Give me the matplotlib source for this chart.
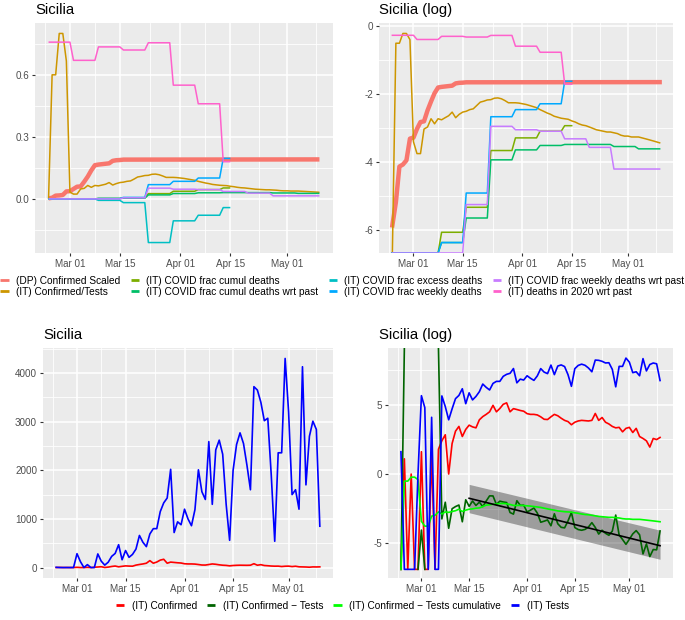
#!/usr/bin/env python3
"""
Sicilia COVID indicators: four panels (linear / log) with shared legends.
"""

import numpy as np
import pandas as pd
import matplotlib
matplotlib.use("Agg")
import matplotlib.pyplot as plt
import matplotlib.dates as mdates
from matplotlib.lines import Line2D

plt.rcParams["font.family"] = ["Liberation Sans", "DejaVu Sans"]
plt.rcParams["axes.unicode_minus"] = False

# ---------------- data ----------------
days = pd.date_range("2020-02-24", "2020-05-10", freq="D")

confirmed_daily = [0, 3, 0, 1, 0, 0, 5, 0, 0, 4, 0, 6, 11, 17, 1, 9, 22, 31, 15, 25,
                   34, 30, 28, 50, 63, 74, 89, 142, 89, 113, 153, 170, 89, 112, 105, 98,
                   93, 78, 74, 74, 71, 62, 52, 51, 62, 74, 67, 56, 48, 44, 35, 42, 46, 48,
                   47, 46, 48, 79, 48, 59, 42, 37, 31, 28, 29, 21, 27, 29, 20, 27, 15, 13,
                   11, 7, 13, 12, 14]
tests_daily = [5, 0, 0, 0, 0, 1, 285, 120, 0, 60, 0, 0, 280, 130, 50, 110, 230, 290, 470,
               160, 350, 210, 270, 380, 660, 520, 430, 690, 800, 800, 1150, 1330, 1430,
               2020, 720, 940, 880, 1200, 1000, 860, 1190, 2010, 1560, 1400, 2590, 1300,
               2420, 2620, 2330, 1300, 560, 2000, 2530, 2770, 2550, 2100, 1600, 3720,
               3650, 3400, 3020, 3070, 1900, 540, 2360, 2360, 4300, 3200, 1500, 1600,
               1200, 4130, 1700, 2700, 3010, 2840, 850]
# cumulative confirmed / cumulative tests
confirmed_over_tests = [0, 0.6, 0.6, 0.8, 0.8, 0.667, 0.033, 0.0233, 0.0233, 0.048, 0.051,
                        0.065, 0.056, 0.065, 0.063, 0.067, 0.071, 0.079, 0.067, 0.074,
                        0.079, 0.081, 0.085, 0.087, 0.096, 0.106, 0.109, 0.113, 0.114,
                        0.119, 0.12, 0.117, 0.111, 0.104, 0.104, 0.104, 0.103, 0.101,
                        0.099, 0.096, 0.093, 0.090, 0.085, 0.081, 0.077, 0.074, 0.070,
                        0.068, 0.066, 0.065, 0.064, 0.061, 0.059, 0.056, 0.054, 0.053,
                        0.051, 0.049, 0.047, 0.046, 0.045, 0.044, 0.044, 0.043, 0.042,
                        0.040, 0.039, 0.039, 0.038, 0.038, 0.038, 0.037, 0.036, 0.035,
                        0.034, 0.033, 0.032]

# (DP) confirmed scaled: daily until 2020-03-16, flat afterwards
dp_dates = list(pd.date_range("2020-02-24", "2020-03-16", freq="D")) + [pd.Timestamp("2020-05-10")]
dp_confirmed_scaled = [0.00282, 0.00557, 0.0159, 0.0169, 0.0191, 0.0362, 0.0373, 0.0482,
                       0.059, 0.0602, 0.083, 0.108, 0.138, 0.163, 0.166, 0.168, 0.170,
                       0.172, 0.184, 0.187, 0.188, 0.190, 0.191]

# weekly series (Mon..Sun), vertices at first and last day of each week
week_short = ["2020-02-24", "2020-03-01", "2020-03-02", "2020-03-08", "2020-03-09",
              "2020-03-15", "2020-03-16", "2020-03-22", "2020-03-23", "2020-03-29",
              "2020-03-30", "2020-04-05", "2020-04-06", "2020-04-12", "2020-04-13",
              "2020-04-15"]
week_long = week_short[:-1] + ["2020-04-19", "2020-04-20", "2020-04-26", "2020-04-27",
                               "2020-05-03", "2020-05-04", "2020-05-10"]

frac_cumul_deaths = [0, 0, 0, 0, 0.0023, 0.0023, 0.0048, 0.0048, 0.0255, 0.0255,
                     0.037, 0.037, 0.045, 0.045, 0.053, 0.053]
frac_cumul_deaths_past = [0, 0, 0, 0, 0.0017, 0.0017, 0.0035, 0.0035, 0.0194, 0.0194,
                          0.026, 0.026, 0.0296, 0.0296, 0.0305, 0.0305, 0.0305, 0.0305,
                          0.0287, 0.0287, 0.0268, 0.0268]
frac_excess_deaths = [0, 0, 0, 0, -0.007, -0.007, -0.018, -0.018, -0.211, -0.211,
                      -0.106, -0.106, -0.079, -0.079, -0.042, -0.042]
frac_weekly_deaths = [0, 0, 0, 0, 0.0017, 0.0017, 0.0073, 0.0073, 0.069, 0.069,
                      0.085, 0.085, 0.101, 0.101, 0.196, 0.196]
frac_weekly_deaths_past = [0, 0, 0, 0, 0, 0, 0.0052, 0.0052, 0.052, 0.052, 0.047, 0.047,
                           0.045, 0.045, 0.036, 0.036, 0.028, 0.028, 0.0148, 0.0148,
                           0.0148, 0.0148]
deaths_2020_wrt_past = [0.758, 0.758, 0.67, 0.67, 0.735, 0.735, 0.72, 0.72, 0.755, 0.755,
                        0.55, 0.55, 0.46, 0.46, 0.18, 0.18]

# linear fit (with band) on log(Confirmed) - log(Tests), from 2020-03-15
fit_dates = ["2020-03-15", "2020-05-10"]
fit_value = [-1.75, -5.17]
fit_lower = [-2.79, -6.15]
fit_upper = [-0.745, -4.05]

top_labels = ["(DP) Confirmed Scaled", "(IT) Confirmed/Tests", "(IT) COVID frac cumul deaths",
              "(IT) COVID frac cumul deaths wrt past", "(IT) COVID frac excess deaths",
              "(IT) COVID frac weekly deaths", "(IT) COVID frac weekly deaths wrt past",
              "(IT) deaths in 2020 wrt past"]
top_colors = ["#F8766D", "#CD9600", "#7CAE00", "#00BE67", "#00BFC4", "#00A9FF",
              "#C77CFF", "#FF61CC"]
bottom_labels = ["(IT) Confirmed", "(IT) Confirmed \u2212 Tests",
                 "(IT) Confirmed \u2212 Tests cumulative", "(IT) Tests"]
bottom_colors = ["#FF0000", "#006400", "#00FF00", "#0000FF"]

# ---------------- styling helpers ----------------
W, H = 685, 620
TICK_FS = 7.1
LEG_FS = 7.3
BG = "#EBEBEB"


def add_panel(fig, left, right, top, bottom):
    ax = fig.add_axes([left / W, 1 - bottom / H, (right - left) / W, (bottom - top) / H])
    ax.set_facecolor(BG)
    for s in ax.spines.values():
        s.set_visible(False)
    ax.tick_params(axis="both", which="major", labelsize=TICK_FS, labelcolor="#4D4D4D",
                   color="#333333", length=2.3, width=0.8, pad=2.0)
    ax.tick_params(axis="both", which="minor", length=0)
    ax.grid(True, which="major", color="white", lw=1.15)
    ax.grid(True, which="minor", color="white", lw=0.58)
    ax.set_axisbelow(True)
    return ax


def date_axis(ax):
    start, end = days[0], days[-1]
    pad = (end - start) * 0.05
    ax.set_xlim(mdates.date2num(start - pad), mdates.date2num(end + pad))
    majors = pd.to_datetime(["2020-03-01", "2020-03-15", "2020-04-01", "2020-04-15", "2020-05-01"])
    minors = pd.to_datetime(["2020-02-23 00:00", "2020-03-08 00:00", "2020-03-23 12:00",
                             "2020-04-08 00:00", "2020-04-23 00:00", "2020-05-09 00:00"])
    ax.set_xticks(mdates.date2num(majors))
    ax.set_xticklabels([d.strftime("%b %d") for d in majors])
    ax.set_xticks(mdates.date2num(minors), minor=True)


def value_axis(ax, lo, hi, majors, minors, fmt):
    pad = (hi - lo) * 0.05
    ax.set_ylim(lo - pad, hi + pad)
    ax.set_yticks(majors)
    ax.set_yticklabels([fmt(v) for v in majors])
    ax.set_yticks(minors, minor=True)
    return lo - pad, hi + pad


def clamp_inf(v, lo, hi):
    v = np.asarray(v, dtype=float).copy()
    v[np.isneginf(v)] = lo
    v[np.isposinf(v)] = hi
    return v


def add_legend(fig, colors, labels, y_px, spacing=0.0):
    handles = [Line2D([], [], color=c, lw=2.0, solid_capstyle="butt") for c in colors]
    fig.legend(handles, labels, loc="center", bbox_to_anchor=(0.5, 1 - y_px / H),
               ncol=4, frameon=False, fontsize=LEG_FS, handlelength=0.8,
               handletextpad=0.75, columnspacing=1.0, labelspacing=spacing,
               borderpad=0, borderaxespad=0)


def top_series():
    """(x, y) for the eight top series, in legend order"""
    ws, wl = pd.to_datetime(week_short), pd.to_datetime(week_long)
    return [
        (dp_dates, dp_confirmed_scaled),
        (days, confirmed_over_tests),
        (ws, frac_cumul_deaths),
        (wl, frac_cumul_deaths_past),
        (ws, frac_excess_deaths),
        (ws, frac_weekly_deaths),
        (wl, frac_weekly_deaths_past),
        (ws, deaths_2020_wrt_past),
    ]


def main():
    fig = plt.figure(figsize=(W / 100, H / 100), dpi=100)
    series = top_series()

    # top-left: linear
    ax = add_panel(fig, 35, 333, 23, 253)
    allv = np.concatenate([np.asarray(y, float) for _, y in series])
    value_axis(ax, allv.min(), allv.max(), [0, 0.3, 0.6], [-0.15, 0.15, 0.45, 0.75],
               lambda v: f"{v:.1f}")
    for i, (x, y) in enumerate(series):
        ax.plot(x, y, color=top_colors[i], lw=3.2 if i == 0 else 1.1, solid_capstyle="butt")
    date_axis(ax)
    fig.text(35 / W, 1 - 13.5 / H, "Sicilia", fontsize=10.7, va="baseline", ha="left")

    # top-right: log
    ax = add_panel(fig, 379, 673, 23, 253)
    with np.errstate(divide="ignore", invalid="ignore"):
        logs = [np.log(np.asarray(y, float)) for _, y in series]
    finite = np.concatenate([v[np.isfinite(v)] for v in logs])
    lo, hi = value_axis(ax, finite.min(), finite.max(), [-6, -4, -2, 0], [-5, -3, -1],
                        lambda v: f"{v:g}")
    for i, ((x, _), v) in enumerate(zip(series, logs)):
        ax.plot(x, clamp_inf(v, lo, hi), color=top_colors[i], lw=3.2 if i == 0 else 1.1)
    date_axis(ax)
    fig.text(379 / W, 1 - 14 / H, "Sicilia (log)", fontsize=10.7, va="baseline", ha="left")

    add_legend(fig, top_colors, top_labels, 286.3, spacing=0.06)

    # bottom-left: linear counts
    ax = add_panel(fig, 43, 333, 348, 578)
    allv = np.concatenate([confirmed_daily, tests_daily]).astype(float)
    value_axis(ax, allv.min(), allv.max(), [0, 1000, 2000, 3000, 4000],
               [500, 1500, 2500, 3500, 4500], lambda v: f"{v:.0f}")
    ax.plot(days, confirmed_daily, color=bottom_colors[0], lw=1.2)
    ax.plot(days, tests_daily, color=bottom_colors[3], lw=1.2)
    date_axis(ax)
    fig.text(43 / W, 1 - 339 / H, "Sicilia", fontsize=10.7, va="baseline", ha="left")

    # bottom-right: log counts
    ax = add_panel(fig, 388, 673, 348, 578)
    c = np.asarray(confirmed_daily, float)
    t = np.asarray(tests_daily, float)
    with np.errstate(divide="ignore", invalid="ignore"):
        log_c = np.log(c)
        log_t = np.log(t)
        log_diff = log_c - log_t
        log_cum = np.log(np.asarray(confirmed_over_tests, float))
    lines = [log_c, log_diff, log_cum, log_t]
    finite = np.concatenate([v[np.isfinite(v)] for v in lines] + [fit_lower, fit_upper])
    lo, hi = value_axis(ax, finite.min(), finite.max(), [-5, 0, 5], [-7.5, -2.5, 2.5, 7.5],
                        lambda v: f"{v:g}")
    for v, col in zip(lines, bottom_colors):
        ax.plot(days, clamp_inf(v, lo, hi), color=col, lw=1.2)
    fd = pd.to_datetime(fit_dates)
    ax.fill_between(fd, fit_lower, fit_upper, color="black", alpha=0.33, lw=0)
    ax.plot(fd, fit_value, color="black", lw=1.2)
    date_axis(ax)
    fig.text(379 / W, 1 - 338.7 / H, "Sicilia (log)", fontsize=10.7, va="baseline", ha="left")

    add_legend(fig, bottom_colors, bottom_labels, 606)

    fig.savefig("out.png", dpi=100)


if __name__ == "__main__":
    main()
